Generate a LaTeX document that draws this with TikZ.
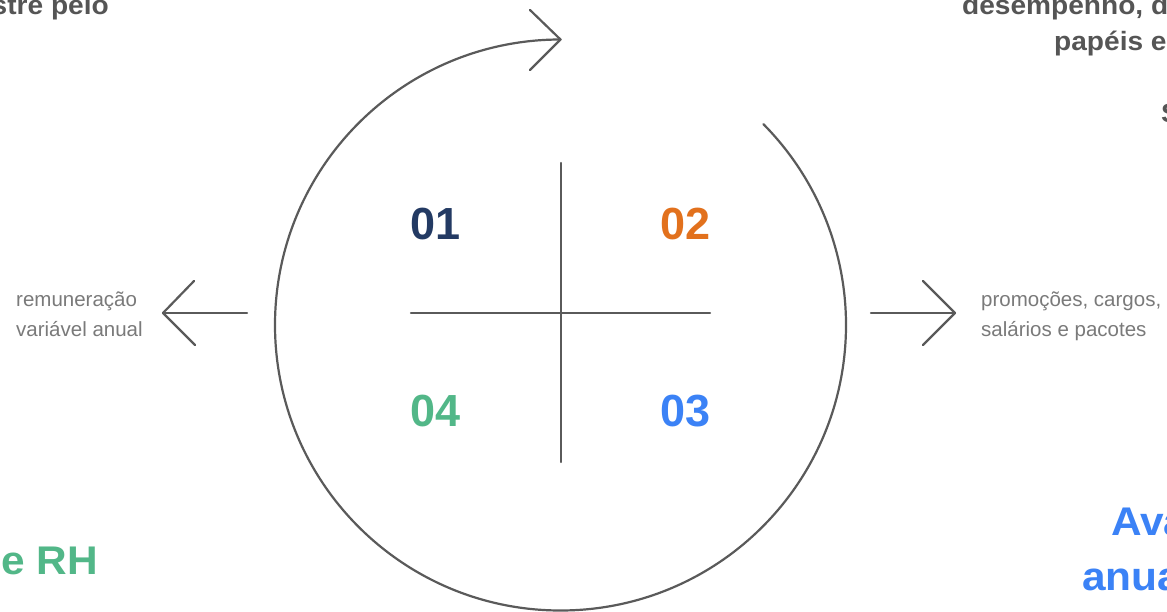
\documentclass[tikz,border=0pt]{standalone}
\usepackage{fontspec}
\setmainfont{Liberation Sans}
\newfontfamily\wideheads[FakeStretch=1.06]{Liberation Sans}
\definecolor{linegray}{HTML}{5A5A5A}
\definecolor{headgray}{HTML}{555555}
\definecolor{smallgray}{HTML}{7A7A7A}
\definecolor{cnavy}{HTML}{233A63}
\definecolor{corange}{HTML}{E2711D}
\definecolor{cblue}{HTML}{3B82F6}
\definecolor{cgreen}{HTML}{52B788}
\tikzset{
  ln/.style={draw=linegray, line width=2.2pt, line cap=round, line join=round},
  head/.style={inner sep=0pt, font=\wideheads\bfseries\fontsize{26.5}{36}\selectfont, text=headgray},
  small/.style={inner sep=0pt, font=\fontsize{20.5}{30}\selectfont, text=smallgray},
  num/.style={inner sep=0pt, font=\bfseries\fontsize{45}{45}\selectfont},
  big/.style={inner sep=0pt, font=\wideheads\bfseries\fontsize{40}{57}\selectfont},
}
\begin{document}
\begin{tikzpicture}[x=1pt,y=-1pt]
\useasboundingbox (0,0) rectangle (1167,612);
\fill[white] (0,0) rectangle (1167,612);
\clip (0,0) rectangle (1167,612);

% coordinates
\coordinate (c) at (560.5,325);
\coordinate (top) at (560.5,39.5);
\coordinate (ta1) at (530,10);
\coordinate (ta2) at (530,70);
\coordinate (hl) at (411,313);
\coordinate (hr) at (710,313);
\coordinate (vt) at (561,163);
\coordinate (vb) at (561,462);
\coordinate (la) at (247,313);
\coordinate (lt) at (163,313);
\coordinate (la1) at (194,281);
\coordinate (la2) at (195,345);
\coordinate (ra) at (871,313);
\coordinate (rt) at (955,313);
\coordinate (ra1) at (923,281);
\coordinate (ra2) at (923,345);

% cycle arc
\draw[ln] (top) arc[start angle=-90, end angle=-404.7, radius=285.5];
\draw[ln] (ta1) -- (top) -- (ta2);

% cross
\draw[ln] (hl) -- (hr);
\draw[ln] (vt) -- (vb);

% side arrows
\draw[ln] (la) -- (lt);
\draw[ln] (la1) -- (lt) -- (la2);
\draw[ln] (ra) -- (rt);
\draw[ln] (ra1) -- (rt) -- (ra2);

% numbers
\node[num, text=cnavy, anchor=base west] (n1) at (410,240) {01};
\node[num, text=corange, anchor=base east] (n2) at (711,240) {02};
\node[num, text=cblue, anchor=base east] (n3) at (711,426) {03};
\node[num, text=cgreen, anchor=base west] (n4) at (410,426) {04};

% side texts
\node[small, anchor=base west, align=left] (lt1) at (16,306) {remuneração};
\node[small, anchor=base west, align=left] (lt2) at (16,336) {variável anual};
\node[small, anchor=base west, align=left] (rt1) at (981,306) {promoções, cargos,};
\node[small, anchor=base west, align=left] (rt2) at (981,336) {salários e pacotes};

% cropped headings
\node[head, anchor=base east] (h1) at (109,15) {stre pelo};
\node[head, anchor=base west] (h2) at (962,15) {desempenho, d};
\node[head, anchor=base west] (h3) at (1054,51) {papéis e};
\node[head, anchor=base west] (h4) at (1161,123) {S};

\node[big, text=cgreen, anchor=base east] (g1) at (98,574) {e RH};
\node[big, text=cblue, anchor=base west] (b1) at (1111,535) {Ava};
\node[big, text=cblue, anchor=base west] (b2) at (1082,590) {anua};
\end{tikzpicture}
\end{document}
